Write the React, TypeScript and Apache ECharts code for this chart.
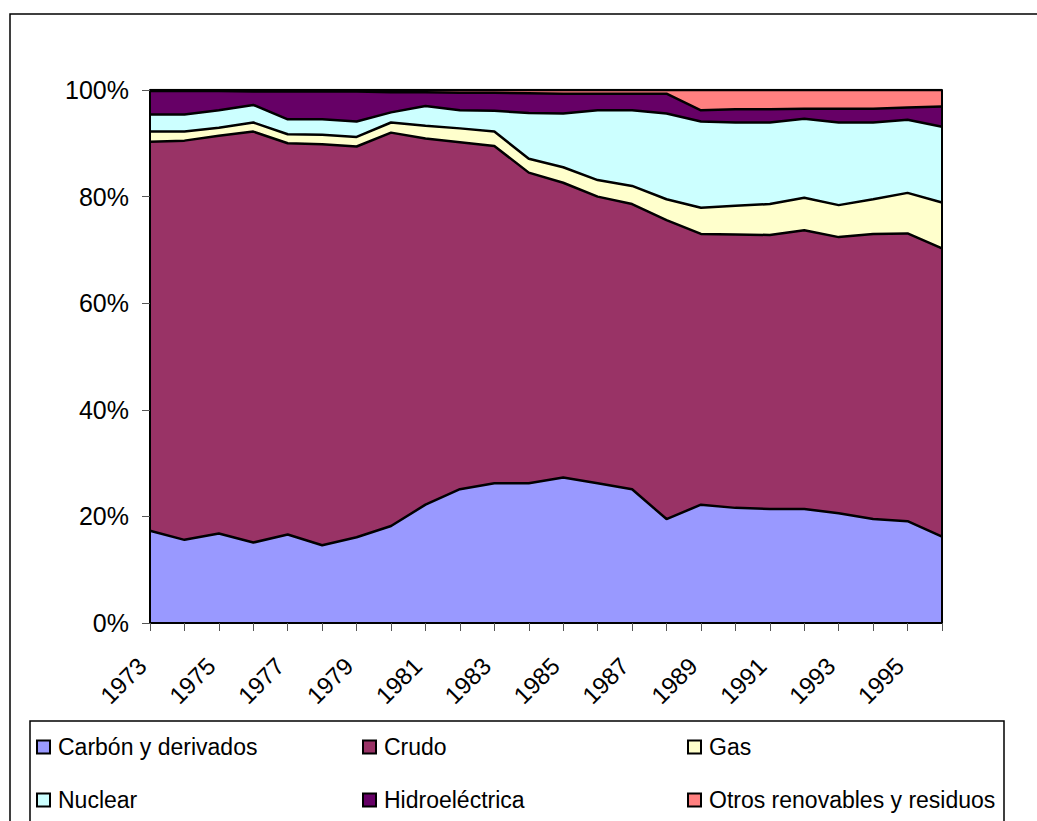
import React, { useEffect, useRef } from "react";
import * as echarts from "echarts";

const years = ["1973","1974","1975","1976","1977","1978","1979","1980","1981","1982","1983","1984","1985","1986","1987","1988","1989","1990","1991","1992","1993","1994","1995","1996"];

const carbon = [17.3,15.6,16.8,15.1,16.6,14.6,16.1,18.2,22.2,25.1,26.2,26.2,27.3,26.2,25.1,19.5,22.2,21.6,21.4,21.4,20.6,19.5,19.1,16.2];
const crudo = [73.0,74.9,74.6,77.1,73.4,75.2,73.3,73.8,68.7,65.1,63.3,58.3,55.3,53.8,53.5,56.1,50.8,51.3,51.4,52.3,51.8,53.5,54.0,54.1];
const gas = [1.9,1.7,1.5,1.7,1.7,1.8,1.8,1.9,2.4,2.6,2.7,2.6,2.9,3.1,3.4,3.9,4.9,5.4,5.8,6.1,6.0,6.5,7.6,8.6];
const nuclear = [3.2,3.2,3.3,3.3,2.8,2.9,2.9,1.9,3.7,3.4,3.9,8.6,10.1,13.1,14.2,16.1,16.2,15.6,15.3,14.8,15.5,14.4,13.7,14.2];
const hidro = [4.4,4.4,3.6,2.5,5.2,5.2,5.6,3.8,2.6,3.3,3.4,3.7,3.7,3.1,3.1,3.7,2.1,2.5,2.5,1.9,2.6,2.6,2.3,3.8];
const otros = [0.2,0.2,0.2,0.3,0.3,0.3,0.3,0.4,0.4,0.5,0.5,0.6,0.7,0.7,0.7,0.7,3.8,3.6,3.6,3.5,3.5,3.5,3.3,3.1];

const seriesNames = ["Carbón y derivados","Crudo","Gas","Nuclear","Hidroeléctrica","Otros renovables y residuos"];
const seriesData = [carbon, crudo, gas, nuclear, hidro, otros];
const colors = ["#9999FF","#993366","#FFFFCC","#CCFFFF","#660066","#FF8080"];

const yTicks = [0, 20, 40, 60, 80, 100];

const FONT = 'Arial, "Liberation Sans", sans-serif';

export default function App() {
  const ref = useRef<HTMLDivElement>(null);
  useEffect(() => {
    if (!ref.current) return;
    const chart = echarts.init(ref.current, undefined, { renderer: "svg" });

    const areaSeries = seriesNames.map((name, i) => ({
      name,
      type: "line",
      stack: "total",
      data: seriesData[i],
      showSymbol: false,
      symbol: "none",
      color: colors[i],
      itemStyle: { color: colors[i] },
      lineStyle: { width: 0, color: colors[i] },
      areaStyle: { color: colors[i], opacity: 1 },
      z: 2,
      silent: true,
    }));
    const lineSeries = seriesNames.map((name, i) => ({
      name: name + " ",
      type: "line",
      stack: "lines",
      data: seriesData[i],
      showSymbol: false,
      symbol: "none",
      lineStyle: { width: 2.5, color: "#000" },
      z: 3,
      silent: true,
    }));

    const legendPos = [
      { left: 36, top: 734 },
      { left: 362, top: 734 },
      { left: 687, top: 734 },
      { left: 36, top: 787 },
      { left: 362, top: 787 },
      { left: 687, top: 787 },
    ];
    const legendOrder = [0, 1, 2, 3, 4, 5];

    const option: any = {
      animation: false,
      backgroundColor: "#fff",
      textStyle: { fontFamily: FONT },
      grid: { left: 150, top: 90, width: 792, height: 533, containLabel: false },
      xAxis: {
        type: "category",
        data: years,
        boundaryGap: false,
        z: 5,
        axisLine: { show: true, lineStyle: { color: "#000", width: 2 } },
        axisTick: { show: true, interval: 0, length: 8, lineStyle: { color: "#555", width: 1 } },
        axisLabel: {
          interval: 1,
          rotate: 45,
          margin: 31,
          padding: [0, 11, 0, 0],
          fontSize: 24,
          fontFamily: FONT,
          color: "#000",
        },
        splitLine: { show: false },
      },
      yAxis: [
        {
          type: "value",
          min: 0,
          max: 100,
          interval: 20,
          z: 5,
          axisLine: { show: true, lineStyle: { color: "#000", width: 2 } },
          axisTick: { show: true, length: 8, lineStyle: { color: "#555", width: 1 } },
          axisLabel: {
            formatter: "{value}%",
            fontSize: 25,
            margin: 21,
            fontFamily: FONT,
            color: "#000",
          },
          splitLine: { show: false },
        },
        {
          type: "value",
          position: "right",
          min: 0,
          max: 100,
          interval: 20,
          z: 5,
          axisLine: { show: true, lineStyle: { color: "#000", width: 2 } },
          axisTick: { show: false },
          axisLabel: { show: false },
          splitLine: { show: false },
        },
      ],
      legend: legendOrder.map((i) => ({
        data: [seriesNames[i]],
        left: legendPos[i].left,
        top: legendPos[i].top,
        icon: "rect",
        itemWidth: 13,
        itemHeight: 13,
        selectedMode: false,
        padding: 0,
        itemStyle: { borderColor: "#000", borderWidth: 2 },
        textStyle: { fontSize: 23, fontFamily: FONT, color: "#000", lineHeight: 26, padding: [0, 0, 0, 3] },
      })),
      graphic: [
        {
          type: "rect",
          shape: { x: 10, y: 14, width: 1040, height: 830 },
          style: { fill: "none", stroke: "#000", lineWidth: 1.5 },
          z: 0,
          silent: true,
        },
        {
          type: "rect",
          shape: { x: 30, y: 721, width: 974, height: 130 },
          style: { fill: "none", stroke: "#000", lineWidth: 1.5 },
          z: 0,
          silent: true,
        },
      ],
      series: [...areaSeries, ...lineSeries],
    };
    chart.setOption(option);
    return () => chart.dispose();
  }, []);

  return (
    <div
      ref={ref}
      style={{ position: "fixed", left: 0, top: 0, width: 1037, height: 821, background: "#fff" }}
    />
  );
}
